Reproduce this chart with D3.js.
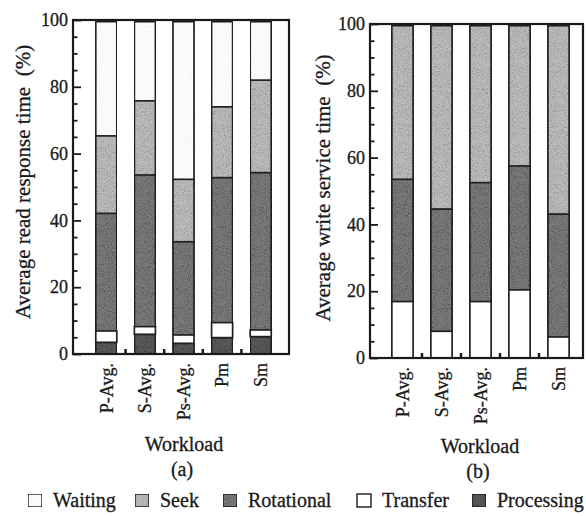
<!DOCTYPE html>
<html><head><meta charset="utf-8">
<script src="https://cdn.jsdelivr.net/npm/d3@7"></script>
<style>
body{margin:0;background:#fff}
</style>
</head><body>
<svg id="c" width="586" height="516"></svg>
<script>
// ---- data ----
const workloads = ["P-Avg.", "S-Avg.", "Ps-Avg.", "Pm", "Sm"];
const legendNames = ["Waiting", "Seek", "Rotational", "Transfer", "Processing"];
const stackOrder = ["Processing", "Transfer", "Rotational", "Seek", "Waiting"];
const yTicks = [0, 20, 40, 60, 80, 100];

// (a) read response time breakdown (%)
const readProcessing = [3.5, 5.9, 3.2, 4.9, 5.2];
const readTransfer   = [3.4, 2.3, 2.5, 4.5, 2.0];
const readRotational = [35.2, 45.4, 27.9, 43.4, 47.1];
const readSeek       = [23.2, 22.2, 18.7, 21.2, 27.7];
const readWaiting    = [34.2, 23.7, 47.2, 25.5, 17.5];

// (b) write service time breakdown (%)
const writeProcessing = [0, 0, 0, 0, 0];
const writeTransfer   = [16.9, 8.0, 16.9, 20.4, 6.3];
const writeRotational = [36.6, 36.6, 35.6, 37.1, 36.8];
const writeSeek       = [46.0, 54.9, 47.0, 42.0, 56.4];
const writeWaiting    = [0, 0, 0, 0, 0];

const FONT = "'Liberation Serif', Tinos, 'Times New Roman', serif";
const INK = "#1a1a1a";
const fills = {Waiting:"#fdfdfd", Seek:"#bcbcbc", Rotational:"#7a7a7a", Transfer:"#ffffff", Processing:"#5a5a5a"};
const speckle = {Waiting:0.12, Seek:0.45, Rotational:0.6, Transfer:0, Processing:0.6};

function rows(p, t, r, s, w){
  return workloads.map((k,i)=>({workload:k, Processing:p[i], Transfer:t[i], Rotational:r[i], Seek:s[i], Waiting:w[i]}));
}
const panels = [
  {data: rows(readProcessing, readTransfer, readRotational, readSeek, readWaiting),
   left:73, right:289, top:20, bottom:354, band:[87,280],
   ylabel:"Average read response time\u00a0\u00a0(%)", ylx:23, yly:182,
   wx:184, wy:451, tag:"(a)", ty:476},
  {data: rows(writeProcessing, writeTransfer, writeRotational, writeSeek, writeWaiting),
   left:370, right:583, top:24, bottom:358, band:[383,578],
   ylabel:"Average write service time\u00a0\u00a0(%)", ylx:323, yly:188,
   wx:480, wy:453, tag:"(b)", ty:478}
];

const svg = d3.select("#c").attr("font-family", FONT);
const defs = svg.append("defs");

// grain filters (scanned-print look), one per density
Object.entries(speckle).forEach(([k,a])=>{
  if(!a) return;
  const f = defs.append("filter").attr("id","grain-"+k).attr("x",0).attr("y",0).attr("width","100%").attr("height","100%");
  f.append("feTurbulence").attr("type","fractalNoise").attr("baseFrequency",0.95).attr("numOctaves",2).attr("seed",7).attr("result","n");
  f.append("feColorMatrix").attr("in","n").attr("type","matrix")
    .attr("values","0 0 0 0 0  0 0 0 0 0  0 0 0 0 0  3 0 0 0 -1.35").attr("result","m");
  f.append("feComposite").attr("in","m").attr("in2","SourceAlpha").attr("operator","in").attr("result","c");
  f.append("feComponentTransfer").attr("in","c").attr("result","d")
    .append("feFuncA").attr("type","linear").attr("slope",a);
  const mg = f.append("feMerge");
  mg.append("feMergeNode").attr("in","SourceGraphic");
  mg.append("feMergeNode").attr("in","d");
});

const stack = d3.stack().keys(stackOrder);
function txt(sel){ return sel.attr("font-family", FONT).attr("fill", INK).attr("stroke", INK).attr("stroke-width", 0.3); }

panels.forEach(P=>{
  const g = svg.append("g");
  const y = d3.scaleLinear().domain([0,100]).range([P.bottom, P.top]);
  const x = d3.scaleBand().domain(workloads).range(P.band).paddingInner(0.455).paddingOuter(0.227);
  const series = stack(P.data);

  // bars
  series.forEach(s=>{
    g.append("g").selectAll("rect").data(s.filter(d=>d[1]-d[0]>0)).join("rect")
      .attr("x", d=>x(d.data.workload))
      .attr("width", x.bandwidth())
      .attr("y", d=>y(d[1]))
      .attr("height", d=>y(d[0])-y(d[1]))
      .attr("fill", fills[s.key])
      .attr("filter", speckle[s.key] ? `url(#grain-${s.key})` : null)
      .attr("stroke", "#222").attr("stroke-width", 1.7);
  });

  // frame
  g.append("rect").attr("x", P.left).attr("y", P.top)
    .attr("width", P.right-P.left).attr("height", P.bottom-P.top)
    .attr("fill","none").attr("stroke",INK).attr("stroke-width",2.2);

  // y axis major (inward)
  const ax = g.append("g").attr("transform", `translate(${P.left},0)`)
    .call(d3.axisLeft(y).tickValues(yTicks).tickSizeInner(-8).tickSizeOuter(0).tickPadding(5));
  ax.attr("font-family", FONT).attr("font-size", 18);
  ax.select(".domain").remove();
  ax.selectAll("line").attr("stroke",INK).attr("stroke-width",1.8);
  ax.selectAll("text").call(txt).attr("font-size",18);
  // minor ticks
  const minor = d3.range(5,100,5).filter(v=>v%20!==0);
  const ax2 = g.append("g").attr("transform", `translate(${P.left},0)`)
    .call(d3.axisLeft(y).tickValues(minor).tickSizeInner(-4.5).tickSizeOuter(0).tickFormat(""));
  ax2.select(".domain").remove();
  ax2.selectAll("line").attr("stroke",INK).attr("stroke-width",1.8);

  // x ticks between bars
  const gap = x.step()-x.bandwidth();
  g.append("g").selectAll("line").data(workloads.slice(1)).join("line")
    .attr("x1", d=>x(d)-gap/2).attr("x2", d=>x(d)-gap/2)
    .attr("y1", P.bottom).attr("y2", P.bottom-5)
    .attr("stroke",INK).attr("stroke-width",2.5);

  // x tick labels (rotated)
  g.append("g").selectAll("text").data(workloads).join("text")
    .attr("transform", d=>`translate(${x(d)+x.bandwidth()/2},${P.bottom+9}) rotate(-90)`)
    .attr("text-anchor","end").attr("dy","0.35em").attr("font-size",18)
    .call(txt).text(d=>d);

  // y label
  g.append("text")
    .attr("transform", `translate(${P.ylx},${P.yly}) rotate(-90)`)
    .attr("text-anchor","middle").attr("dy","0.35em").attr("font-size",21)
    .call(txt).text(P.ylabel);

  // x label + tag
  g.append("text").attr("x",P.wx).attr("y",P.wy).attr("text-anchor","middle").attr("font-size",20).call(txt).text("Workload");
  g.append("text").attr("x",P.wx-2).attr("y",P.ty).attr("text-anchor","middle").attr("font-size",20).call(txt).text(P.tag);
});

// legend
const legendX = [28, 135, 223, 357, 472];
const lg = svg.append("g");
legendNames.forEach((n,i)=>{
  lg.append("rect").attr("x",legendX[i]).attr("y",494).attr("width",14).attr("height",13)
    .attr("fill",fills[n]).attr("filter", speckle[n] ? `url(#grain-${n})` : null)
    .attr("stroke",INK).attr("stroke-width",1.4);
  lg.append("text").attr("x",legendX[i]+25).attr("y",507).attr("font-size",20).call(txt).text(n);
});
</script>
</body></html>
